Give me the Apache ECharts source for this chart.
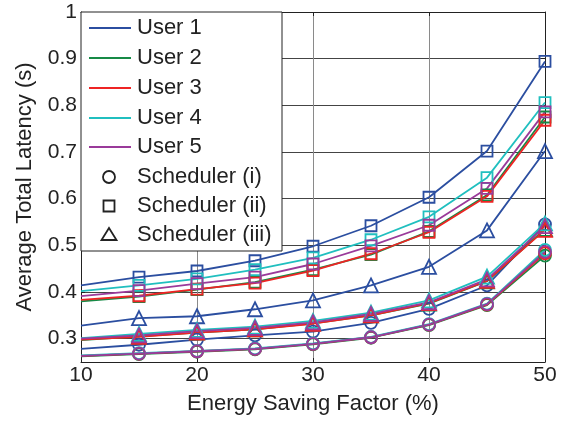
<!DOCTYPE html>
<html>
<head>
<meta charset="utf-8">
<script src="https://cdn.jsdelivr.net/npm/echarts@6/dist/echarts.min.js"></script>
<style>html,body{margin:0;padding:0;background:#fff;}#c{width:572px;height:422px;}</style>
</head>
<body>
<div id="c"></div>
<script>
const xValues = [10, 15, 20, 25, 30, 35, 40, 45, 50];
const xTicks = [10, 20, 30, 40, 50];
const yTicks = [0.3, 0.4, 0.5, 0.6, 0.7, 0.8, 0.9, 1.0];
const users = ['User 1', 'User 2', 'User 3', 'User 4', 'User 5'];
const schedulers = ['Scheduler (i)', 'Scheduler (ii)', 'Scheduler (iii)'];
const userColors = ['#2b4ea0', '#168a46', '#ee2424', '#20bfbf', '#9a3a9a'];
const schedSymbols = ['circle', 'rect', 'triangle'];

// Scheduler (i)
const s1u1 = [0.278, 0.287, 0.298, 0.307, 0.315, 0.334, 0.364, 0.414, 0.545];
const s1u2 = [0.262, 0.267, 0.272, 0.277, 0.288, 0.302, 0.329, 0.372, 0.478];
const s1u3 = [0.263, 0.268, 0.273, 0.278, 0.289, 0.303, 0.330, 0.373, 0.483];
const s1u4 = [0.264, 0.269, 0.274, 0.279, 0.290, 0.304, 0.331, 0.375, 0.490];
const s1u5 = [0.263, 0.268, 0.273, 0.278, 0.289, 0.303, 0.330, 0.374, 0.486];
// Scheduler (ii)
const s2u1 = [0.414, 0.432, 0.445, 0.467, 0.498, 0.542, 0.603, 0.702, 0.894];
const s2u2 = [0.380, 0.390, 0.405, 0.421, 0.448, 0.480, 0.530, 0.608, 0.775];
const s2u3 = [0.383, 0.392, 0.406, 0.419, 0.446, 0.482, 0.528, 0.605, 0.768];
const s2u4 = [0.402, 0.414, 0.428, 0.448, 0.473, 0.512, 0.561, 0.645, 0.806];
const s2u5 = [0.391, 0.403, 0.418, 0.432, 0.460, 0.499, 0.543, 0.622, 0.786];
// Scheduler (iii)
const s3u1 = [0.328, 0.344, 0.348, 0.363, 0.382, 0.414, 0.454, 0.532, 0.702];
const s3u2 = [0.297, 0.305, 0.313, 0.320, 0.333, 0.350, 0.375, 0.423, 0.535];
const s3u3 = [0.298, 0.304, 0.313, 0.320, 0.332, 0.350, 0.376, 0.424, 0.533];
const s3u4 = [0.301, 0.310, 0.319, 0.326, 0.338, 0.356, 0.382, 0.433, 0.547];
const s3u5 = [0.300, 0.307, 0.316, 0.323, 0.335, 0.353, 0.378, 0.427, 0.541];

const allData = [
  [s1u1, s1u2, s1u3, s1u4, s1u5],
  [s2u1, s2u2, s2u3, s2u4, s2u5],
  [s3u1, s3u2, s3u3, s3u4, s3u5]
];

const FONT = '"Liberation Sans", Arial, Helvetica, sans-serif';
const symSizes = { circle: 12, rect: 11, triangle: 14 };

const series = [];
allData.forEach((sched, si) => {
  sched.forEach((vals, ui) => {
    const sym = schedSymbols[si];
    series.push({
      type: 'line',
      name: users[ui] + ' ' + schedulers[si],
      xAxisIndex: 0, yAxisIndex: 0,
      symbol: sym,
      symbolSize: symSizes[sym],
      showAllSymbol: true,
      animation: false,
      lineStyle: { color: userColors[ui], width: 1.8 },
      itemStyle: { color: 'rgba(0,0,0,0)', borderColor: userColors[ui], borderWidth: 1.8 },
      emphasis: { disabled: true },
      data: vals.map((v, i) => i === 0 ? { value: [xValues[i], v], symbol: 'none' } : [xValues[i], v]),
      z: 2
    });
  });
});

// Legend (drawn as graphics)
const lgX = 81, lgY = 12, lgW = 201, lgH = 239;
const rowY = [28, 58, 88, 118, 147, 177, 206, 235];
const graphics = [{
  type: 'rect', shape: { x: lgX, y: lgY, width: lgW, height: lgH },
  style: { fill: '#fff', stroke: '#222', lineWidth: 1 }, z: 100
}];
users.forEach((u, i) => {
  graphics.push({ type: 'line', shape: { x1: 89, y1: rowY[i], x2: 131, y2: rowY[i] },
    style: { stroke: userColors[i], lineWidth: 2 }, z: 101 });
  graphics.push({ type: 'text', x: 137, y: rowY[i],
    style: { text: u, font: '22px ' + FONT, fill: '#222', textVerticalAlign: 'middle' }, z: 101 });
});
schedulers.forEach((s, i) => {
  const y = rowY[5 + i];
  if (i === 0) graphics.push({ type: 'circle', shape: { cx: 109, cy: y, r: 6 }, style: { fill: 'none', stroke: '#222', lineWidth: 1.8 }, z: 101 });
  if (i === 1) graphics.push({ type: 'rect', shape: { x: 103.5, y: y - 5.5, width: 11, height: 11 }, style: { fill: 'none', stroke: '#222', lineWidth: 1.8 }, z: 101 });
  if (i === 2) graphics.push({ type: 'polygon', shape: { points: [[109, y - 7], [116.5, y + 5], [101.5, y + 5]] }, style: { fill: 'none', stroke: '#222', lineWidth: 1.8 }, z: 101 });
  graphics.push({ type: 'text', x: 137, y: y,
    style: { text: s, font: '22px ' + FONT, fill: '#222', textVerticalAlign: 'middle' }, z: 101 });
});

const axisBase = {
  axisLine: { show: true, lineStyle: { color: '#222', width: 1 } },
  axisTick: { show: true, inside: true, length: 4, lineStyle: { color: '#222' } }
};

const option = {
  backgroundColor: '#fff',
  animation: false,
  grid: { left: 81, right: 27, top: 12, bottom: 60, containLabel: false },
  xAxis: [
    Object.assign({}, axisBase, {
      type: 'value', min: 10, max: 50, interval: 10, position: 'bottom',
      name: 'Energy Saving Factor (%)', nameLocation: 'middle', nameGap: 31,
      nameTextStyle: { fontSize: 22, fontFamily: FONT, color: '#222' },
      axisLabel: { fontSize: 21, fontFamily: FONT, color: '#222', margin: 3 },
      splitLine: { show: true, lineStyle: { color: '#8a8a8a', width: 1 } }
    }),
    Object.assign({}, axisBase, {
      type: 'value', min: 10, max: 50, interval: 10, position: 'top',
      axisLabel: { show: false }, splitLine: { show: false }
    })
  ],
  yAxis: [
    Object.assign({}, axisBase, {
      type: 'value', min: 0.25, max: 1, position: 'left',
      axisTick: { show: true, inside: true, length: 4, lineStyle: { color: '#222' }, customValues: yTicks },
      name: 'Average Total Latency (s)', nameLocation: 'middle', nameGap: 45,
      nameTextStyle: { fontSize: 22, fontFamily: FONT, color: '#222' },
      axisLabel: { fontSize: 21, fontFamily: FONT, color: '#222', margin: 4, customValues: yTicks,
        formatter: v => (Math.abs(v - 1) < 1e-9 ? '1' : v.toFixed(1)) },
      splitLine: { show: true, lineStyle: { color: '#444', width: 1 } }
    }),
    Object.assign({}, axisBase, {
      type: 'value', min: 0.25, max: 1, position: 'right',
      axisTick: { show: true, inside: true, length: 4, lineStyle: { color: '#222' }, customValues: yTicks },
      axisLabel: { show: false, customValues: yTicks }, splitLine: { show: false }
    })
  ],
  graphic: graphics,
  series: series
};

const chart = echarts.init(document.getElementById('c'), null, { renderer: 'canvas' });
chart.setOption(option);
</script>
</body>
</html>
